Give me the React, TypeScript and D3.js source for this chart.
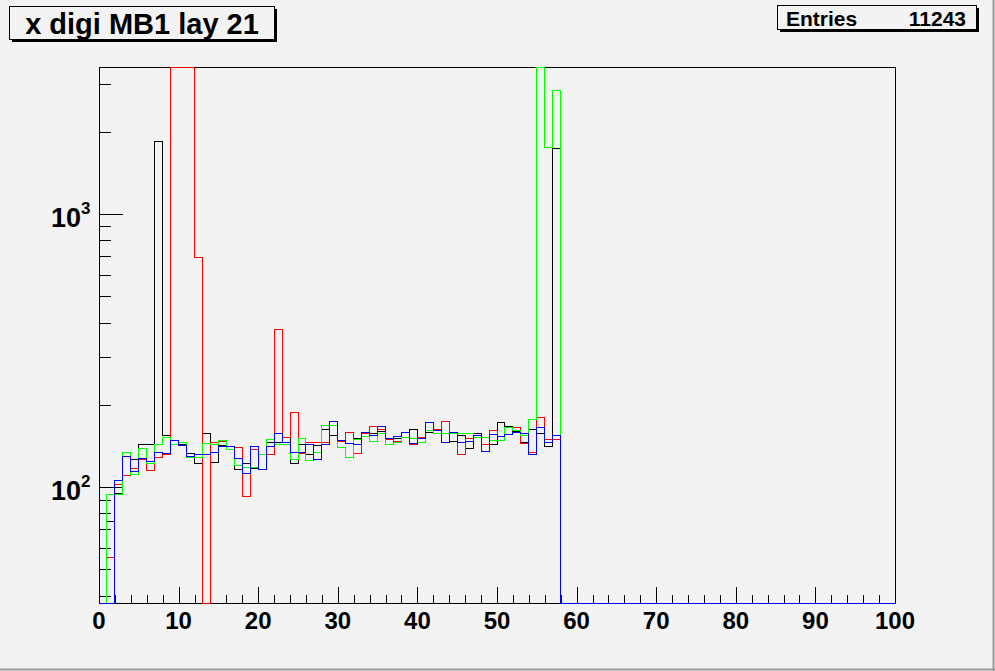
import { useEffect, useRef } from "react";
import * as d3 from "d3";

// bin contents, bins of width 1 starting at 0.
// bins 58..99 are empty for every series.
const black = [
  0, 75, 95, 129, 126, 143, 143, 1836, 154, 148, 143, 133, 122, 157, 123, 142,
  137, 116, 122, 117, 131, 145, 146, 152, 122, 143, 131, 142, 162, 155, 148,
  144, 151, 157, 157, 160, 150, 150, 158, 162, 150, 158, 161, 174, 147, 155,
  138, 157, 143, 143, 172, 167, 160, 145, 162, 157, 141, 1730,
];
const red = [
  0, 55, 102, 110, 117, 126, 115, 128, 132, 5000, 5000, 5000, 693, 0, 145, 147,
  137, 140, 92, 137, 132, 132, 376, 152, 188, 133, 145, 145, 145, 168, 147, 158,
  133, 157, 167, 163, 149, 147, 158, 143, 152, 172, 163, 174, 159, 132, 151,
  155, 143, 161, 153, 165, 165, 144, 134, 180, 149, 149,
];
const green = [
  0, 94, 94, 134, 111, 138, 122, 143, 152, 143, 145, 128, 128, 144, 143, 148,
  137, 120, 118, 118, 132, 149, 143, 143, 126, 151, 125, 134, 168, 168, 140,
  128, 149, 153, 147, 157, 143, 146, 152, 150, 146, 161, 157, 157, 157, 157,
  157, 152, 152, 148, 148, 165, 161, 155, 176, 5000, 1745, 2845,
];
const blue = [
  0, 0, 106, 129, 114, 127, 124, 134, 133, 148, 142, 129, 131, 132, 134, 141,
  141, 127, 112, 141, 116, 141, 157, 145, 134, 134, 143, 126, 143, 174, 148,
  144, 143, 158, 155, 167, 150, 153, 158, 144, 150, 172, 161, 145, 158, 146,
  147, 155, 135, 156, 153, 156, 159, 157, 132, 165, 145, 154,
];

const series = [
  { name: "black", values: black, color: "#000000" },
  { name: "red", values: red, color: "#ff0000" },
  { name: "green", values: green, color: "#00ff00" },
  { name: "blue", values: blue, color: "#0000ff" },
];

const nBins = 100;
const xTickLabels = ["0", "10", "20", "30", "40", "50", "60", "70", "80", "90", "100"];
const yMin = 37.6;
const yMax = 3454;
const yTicks = [40, 50, 60, 70, 80, 90, 100, 200, 300, 400, 500, 600, 700, 800, 900, 1000, 2000, 3000];
const yDecades = [2, 3];
const title = "x digi MB1 lay 21";
const entries = "11243";

const W = 995;
const H = 671;
const bg = "#f3f3f3";
const font = "'Liberation Sans', Arial, Helvetica, sans-serif";

export default function App() {
  const svgRef = useRef<SVGSVGElement | null>(null);

  useEffect(() => {
    document.body.style.margin = "0";
    const svg = d3.select(svgRef.current);
    svg.selectAll("*").remove();

    const x = d3.scaleLinear().domain([0, 100]).range([99, 895]);
    const y = d3.scaleLog().domain([yMin, yMax]).range([603, 67]);

    svg.append("rect").attr("width", W).attr("height", H).attr("fill", bg);
    // canvas border
    svg.append("line").attr("x1", W - 1.5).attr("x2", W - 1.5).attr("y1", 0).attr("y2", H)
      .attr("stroke", "#9a9a9a").attr("stroke-width", 2);
    svg.append("line").attr("x1", 0).attr("x2", W).attr("y1", H - 1.5).attr("y2", H - 1.5)
      .attr("stroke", "#9a9a9a").attr("stroke-width", 2);

    // frame
    svg.append("rect")
      .attr("x", 99.5).attr("y", 67.5).attr("width", 796).attr("height", 536)
      .attr("fill", bg).attr("stroke", "#000").attr("stroke-width", 1);

    const g = svg.append("g").attr("shape-rendering", "crispEdges");

    // x ticks every 2 units, major every 10
    d3.range(0, 101, 2).forEach((v) => {
      const major = v % 10 === 0;
      const px = Math.round(x(v)) + 0.5;
      g.append("line").attr("x1", px).attr("x2", px)
        .attr("y1", 603).attr("y2", 603 - (major ? 16 : 8)).attr("stroke", "#000");
    });
    xTickLabels.forEach((t) => {
      svg.append("text").attr("x", x(+t)).attr("y", 629)
        .attr("text-anchor", "middle").attr("font-family", font)
        .attr("font-weight", "bold").attr("font-size", 24).text(t);
    });

    // y ticks (log)
    yTicks.forEach((v) => {
      const major = Math.abs(Math.log10(v) - Math.round(Math.log10(v))) < 1e-9;
      const py = Math.round(y(v)) + 0.5;
      g.append("line").attr("x1", 99).attr("x2", 99 + (major ? 24 : 12))
        .attr("y1", py).attr("y2", py).attr("stroke", "#000");
    });
    yDecades.forEach((d) => {
      const py = y(Math.pow(10, d));
      const t = svg.append("text").attr("x", 51).attr("y", py + 13)
        .attr("font-family", font).attr("font-weight", "bold").attr("font-size", 27);
      t.append("tspan").text("10");
      t.append("tspan").attr("dy", -13).attr("font-size", 17).text(String(d));
    });

    // histograms
    const line = d3.line<[number, number]>()
      .x((d) => x(d[0]))
      .y((d) => y(Math.min(yMax, Math.max(yMin, d[1]))))
      .curve(d3.curveStepAfter);

    series.forEach((s) => {
      const pts: [number, number][] = d3.range(nBins).map((k) => [k, s.values[k] ?? 0]);
      pts.push([nBins, s.values[nBins - 1] ?? 0]);
      g.append("path").attr("d", line(pts)).attr("fill", "none")
        .attr("stroke", s.color).attr("stroke-width", 1);
    });

    // title box
    svg.append("rect").attr("x", 12).attr("y", 9).attr("width", 265).attr("height", 33).attr("fill", "#000");
    svg.append("rect").attr("x", 9.5).attr("y", 6.5).attr("width", 265).attr("height", 33)
      .attr("fill", bg).attr("stroke", "#000");
    svg.append("text").attr("x", 142).attr("y", 34).attr("text-anchor", "middle")
      .attr("font-family", font).attr("font-weight", "bold").attr("font-size", 29).text(title);

    // stats box
    svg.append("rect").attr("x", 780).attr("y", 8).attr("width", 199).attr("height", 24).attr("fill", "#000");
    svg.append("rect").attr("x", 777.5).attr("y", 5.5).attr("width", 199).attr("height", 24)
      .attr("fill", bg).attr("stroke", "#000");
    svg.append("text").attr("x", 786).attr("y", 26).attr("font-family", font)
      .attr("font-weight", "bold").attr("font-size", 21).text("Entries");
    svg.append("text").attr("x", 966).attr("y", 26).attr("text-anchor", "end").attr("font-family", font)
      .attr("font-weight", "bold").attr("font-size", 21).text(entries);
  }, []);

  return <svg ref={svgRef} width={W} height={H} style={{ display: "block" }} />;
}
